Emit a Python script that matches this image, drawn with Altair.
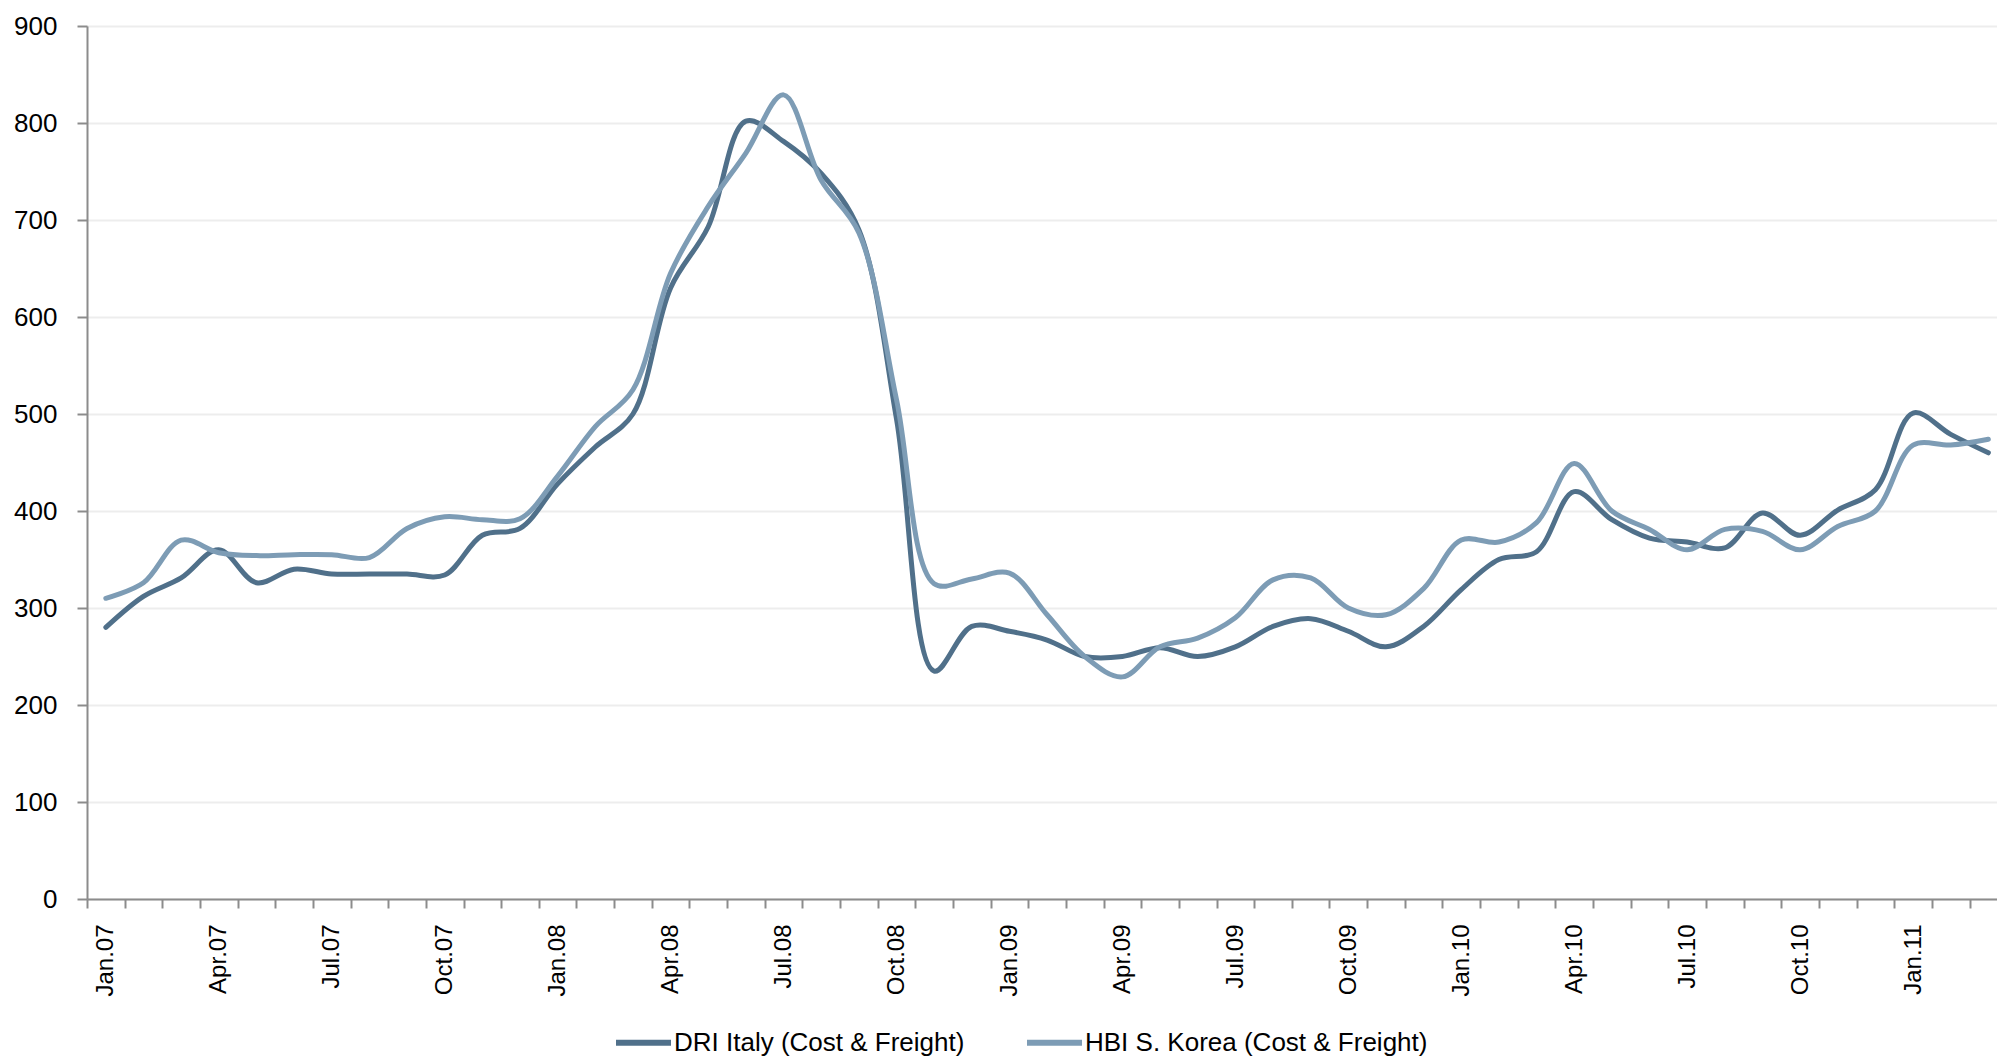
import altair as alt
import pandas as pd

# Monthly prices, Jan.07 .. Mar.11
months = [
    "Jan.07", "Feb.07", "Mar.07", "Apr.07", "May.07", "Jun.07", "Jul.07", "Aug.07", "Sep.07", "Oct.07", "Nov.07", "Dec.07",
    "Jan.08", "Feb.08", "Mar.08", "Apr.08", "May.08", "Jun.08", "Jul.08", "Aug.08", "Sep.08", "Oct.08", "Nov.08", "Dec.08",
    "Jan.09", "Feb.09", "Mar.09", "Apr.09", "May.09", "Jun.09", "Jul.09", "Aug.09", "Sep.09", "Oct.09", "Nov.09", "Dec.09",
    "Jan.10", "Feb.10", "Mar.10", "Apr.10", "May.10", "Jun.10", "Jul.10", "Aug.10", "Sep.10", "Oct.10", "Nov.10", "Dec.10",
    "Jan.11", "Feb.11", "Mar.11",
]

dri_italy = [
    280, 312, 331, 360, 326, 340, 335, 335, 335, 334, 375, 382,
    428, 466, 500, 630, 693, 802, 781, 748, 690, 495, 235, 281,
    276, 267, 250, 250, 259, 250, 260, 281, 289, 276, 260, 281,
    319, 350, 358, 420, 391, 372, 368, 362, 398, 375, 401, 422,
    501, 479, 460,
]

hbi_korea = [
    310, 326, 370, 357, 354, 355, 355, 352, 382, 394, 391, 392,
    436, 487, 525, 645, 714, 769, 829, 741, 687, 515, 325, 330,
    336, 293, 250, 229, 260, 269, 290, 329, 331, 300, 293, 320,
    370, 368, 388, 449, 400, 381, 360, 381, 379, 360, 384, 400,
    468, 468, 474,
]

series_names = ["DRI Italy (Cost & Freight)", "HBI S. Korea (Cost & Freight)"]
series_colors = ["#50708a", "#7d9cb5"]

y_ticks = [0, 100, 200, 300, 400, 500, 600, 700, 800, 900]

# Labels shown every third month; other month boundaries only get a tick
tick_labels = [m if i % 3 == 0 else "" for i, m in enumerate(months)]

rows = []
for name, values in zip(series_names, [dri_italy, hbi_korea]):
    for i, v in enumerate(values):
        rows.append({"idx": i, "month": months[i], "series": name, "value": v})
df = pd.DataFrame(rows)

label_array = "[" + ",".join("'" + t + "'" for t in tick_labels) + "]"
label_expr = f"{label_array}[round(datum.value + 0.5)] || ''"

FONT = "Liberation Sans, Arial, sans-serif"
PLOT_W = 1910
PLOT_H = 873
BAND = PLOT_W / 50.73

chart = (
    alt.Chart(df)
    .mark_line(strokeWidth=5, interpolate="catmull-rom", strokeCap="round", strokeJoin="round")
    .encode(
        x=alt.X(
            "idx:Q",
            scale=alt.Scale(domain=[-0.5, 50.23], nice=False, zero=False),
            axis=alt.Axis(
                title=None,
                values=[i - 0.5 for i in range(len(months) + 1)],
                labelExpr=label_expr,
                labelOffset=BAND / 2,
                labelAngle=270,
                labelAlign="right",
                labelBaseline="middle",
                labelFont=FONT,
                labelFontSize=24,
                labelColor="#000000",
                labelPadding=16,
                labelOverlap=False,
                labelFlush=False,
                tickSize=9,
                tickWidth=2,
                tickColor="#8c8c8c",
                domainColor="#8c8c8c",
                domainWidth=2,
                grid=False,
            ),
        ),
        y=alt.Y(
            "value:Q",
            scale=alt.Scale(domain=[0, 900], nice=False),
            axis=alt.Axis(
                title=None,
                values=y_ticks,
                labelFont=FONT,
                labelFontSize=26,
                labelColor="#000000",
                labelPadding=20,
                tickSize=10,
                tickWidth=2,
                tickColor="#8c8c8c",
                domainColor="#8c8c8c",
                domainWidth=2,
                grid=True,
                gridColor="#ededed",
                gridWidth=2,
            ),
        ),
        color=alt.Color(
            "series:N",
            scale=alt.Scale(domain=series_names, range=series_colors),
            legend=alt.Legend(
                title=None,
                orient="none",
                direction="horizontal",
                legendX=526,
                legendY=986,
                symbolType="stroke",
                symbolSize=3025,
                symbolStrokeWidth=6,
                labelFont=FONT,
                labelFontSize=26,
                labelColor="#000000",
                labelLimit=0,
                labelOffset=0,
                columnPadding=50,
            ),
        ),
        order=alt.Order("idx:Q"),
    )
    .properties(
        width=PLOT_W,
        height=PLOT_H,
        autosize=alt.AutoSizeParams(type="none"),
        padding={"left": 87, "top": 26, "right": 0, "bottom": 162},
    )
    .configure_view(stroke=None)
    .configure(background="#ffffff")
)

chart.save("out.html", embed_options={"renderer": "svg", "actions": False})
